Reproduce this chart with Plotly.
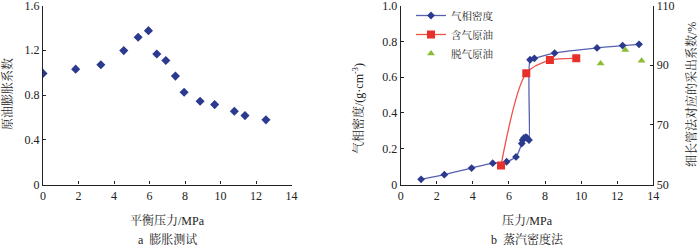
import plotly.graph_objects as go

# ---- Chart a: expansion test ----
a_pressure = [0, 1.84, 3.26, 4.55, 5.36, 5.94, 6.41, 6.92, 7.46, 7.95, 8.85, 9.67, 10.78, 11.38, 12.56]
a_swelling = [0.993, 1.031, 1.07, 1.197, 1.316, 1.375, 1.167, 1.108, 0.969, 0.824, 0.744, 0.714, 0.655, 0.616, 0.578]

# ---- Chart b: vapor density method ----
gas_pressure = [1.13, 2.42, 3.93, 5.10, 5.87, 6.39, 6.71, 6.76, 6.83, 6.94, 7.0, 7.11, 7.17, 7.41, 8.53, 10.88, 12.30, 13.21]
gas_density = [0.029, 0.055, 0.092, 0.119, 0.127, 0.154, 0.229, 0.248, 0.26, 0.265, 0.26, 0.248, 0.697, 0.705, 0.734, 0.763, 0.776, 0.783]

live_pressure = [5.56, 6.96, 8.27, 9.73]
live_recovery = [56.4, 87.3, 91.7, 92.3]

dead_pressure = [11.08, 12.45, 13.35]
dead_recovery = [90.6, 95.1, 91.5]

a_yticks = [0, 0.4, 0.8, 1.2, 1.6]
b_yticks = [0, 0.2, 0.4, 0.6, 0.8, 1.0]
b_y2ticks = [50, 70, 90, 110]
x_ticks = [0, 2, 4, 6, 8, 10, 12, 14]

W, H = 700, 247
def px(x):
    return x / W
def py(y):
    return 1 - y / H

NUM_FONT = "Liberation Serif, Times New Roman, Noto Sans CJK SC, serif"
CJK_FONT = "Liberation Serif, Noto Serif CJK SC, Noto Sans CJK SC, serif"

fig = go.Figure()

fig.add_trace(go.Scatter(
    x=a_pressure, y=a_swelling, mode="markers",
    marker=dict(symbol="diamond", size=7, color="#2b3a8f"),
    xaxis="x", yaxis="y", showlegend=False))

fig.add_trace(go.Scatter(
    x=gas_pressure, y=gas_density, mode="lines+markers", name="气相密度",
    line=dict(color="#5560b0", width=1.3, shape="spline", smoothing=0.6),
    marker=dict(symbol="diamond", size=6, color="#2b3a8f"),
    xaxis="x2", yaxis="y2"))

fig.add_trace(go.Scatter(
    x=live_pressure, y=live_recovery, mode="lines+markers", name="含气原油",
    line=dict(color="#f0504a", width=1.3, shape="spline", smoothing=0.8),
    marker=dict(symbol="square", size=8, color="#e8302a"),
    xaxis="x2", yaxis="y3"))

fig.add_trace(go.Scatter(
    x=dead_pressure, y=dead_recovery, mode="markers", name="脱气原油",
    marker=dict(symbol="triangle-up", size=7, color="#8cbc34"),
    xaxis="x2", yaxis="y3"))

y_dom = [py(184.5), py(5.5)]
axis_common = dict(
    showline=True, linecolor="#222", linewidth=1.3, showgrid=False, zeroline=False,
    ticks="inside", ticklen=3, tickcolor="#222", tickwidth=1, automargin=False,
    ticklabeloverflow="allow",
    tickfont=dict(family=NUM_FONT, size=12, color="#222"),
)

def fmt(v):
    return "0" if v == 0 else ("%g" % v if v >= 10 else "%.1f" % v)

fig.update_layout(
    width=W, height=H, margin=dict(l=0, r=0, t=0, b=0, autoexpand=False),
    paper_bgcolor="white", plot_bgcolor="white",
    xaxis=dict(domain=[px(43), px(291.5)], range=[0, 14], tickvals=x_ticks,
               ticktext=[str(v) for v in x_ticks], anchor="y", **axis_common),
    yaxis=dict(domain=y_dom, range=[0, 1.6], tickvals=a_yticks,
               ticktext=[fmt(v) for v in a_yticks], anchor="x", **axis_common),
    xaxis2=dict(domain=[px(400.7), px(653.3)], range=[0, 14], tickvals=x_ticks,
                ticktext=[str(v) for v in x_ticks], anchor="y2", **axis_common),
    yaxis2=dict(domain=y_dom, range=[0, 1.0], tickvals=b_yticks,
                ticktext=[fmt(v) for v in b_yticks], anchor="x2", **axis_common),
    yaxis3=dict(range=[50, 110], tickvals=b_y2ticks, ticktext=[str(v) for v in b_y2ticks],
                overlaying="y2", side="right", anchor="x2", **axis_common),
    legend=dict(x=px(411), y=py(1), xanchor="left", yanchor="top",
                bgcolor="rgba(0,0,0,0)", font=dict(family=CJK_FONT, size=10.5, color="#222"),
                itemwidth=30, tracegroupgap=0),
    showlegend=True,
)

def ann(text, x, y, size=12, angle=0):
    fig.add_annotation(text=text, x=px(x), y=py(y), xref="paper", yref="paper",
                       showarrow=False, textangle=angle, xanchor="center", yanchor="middle",
                       font=dict(family=CJK_FONT, size=size, color="#222"))

ann("平衡压力/MPa", 167, 220)
ann("a  膨胀测试", 167, 239)
ann("原油膨胀系数", 7, 94, angle=-90)
ann("压力/MPa", 527, 220)
ann("b  蒸汽密度法", 527, 239)
ann("气相密度/(g·cm<sup>-3</sup>)", 358, 109, angle=-90)
ann("细长管法对应的采出系数/%", 692, 95, size=12, angle=-90)

fig.write_html("out.html", config={"displayModeBar": False},
               post_script="document.body.style.margin='0';document.body.style.padding='0';")
